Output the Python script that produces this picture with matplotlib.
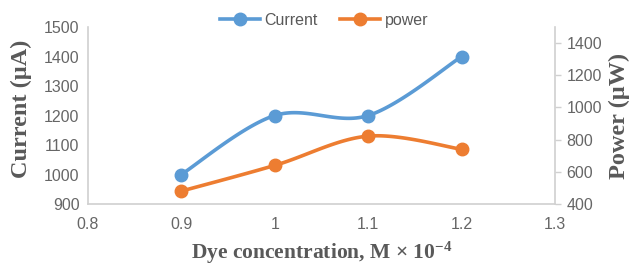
import numpy as np
import matplotlib
matplotlib.use("Agg")
import matplotlib.pyplot as plt
from matplotlib.lines import Line2D

x_vals = [0.9, 1.0, 1.1, 1.2]
current = [1000, 1200, 1200, 1400]
power = [480, 640, 822, 740]
x_ticks = [0.8, 0.9, 1.0, 1.1, 1.2, 1.3]
x_ticklabels = ["0.8", "0.9", "1", "1.1", "1.2", "1.3"]
left_ticks = [900, 1000, 1100, 1200, 1300, 1400, 1500]
right_ticks = [400, 600, 800, 1000, 1200, 1400]

BLUE = "#5B9BD5"
ORANGE = "#ED7D31"
GREY = "#595959"
TICKGREY = "#666666"
SPINE = "#D0D0D0"

plt.rcParams['mathtext.fontset'] = 'custom'
plt.rcParams['mathtext.rm'] = 'Liberation Serif:bold'
plt.rcParams['mathtext.bf'] = 'Liberation Serif:bold'
plt.rcParams['mathtext.it'] = 'Liberation Serif:bold'


def smooth(xs, ys, n=40):
    xs = np.asarray(xs, float); ys = np.asarray(ys, float)
    px = np.concatenate([[xs[0]], xs, [xs[-1]]])
    py = np.concatenate([[ys[0]], ys, [ys[-1]]])
    ox, oy = [], []
    t = np.linspace(0, 1, n)
    for i in range(1, len(px) - 2):
        p0x, p1x, p2x, p3x = px[i-1], px[i], px[i+1], px[i+2]
        p0y, p1y, p2y, p3y = py[i-1], py[i], py[i+1], py[i+2]
        c1x = p1x + (p2x - p0x) / 6; c1y = p1y + (p2y - p0y) / 6
        c2x = p2x - (p3x - p1x) / 6; c2y = p2y - (p3y - p1y) / 6
        bx = (1-t)**3*p1x + 3*(1-t)**2*t*c1x + 3*(1-t)*t**2*c2x + t**3*p2x
        by = (1-t)**3*p1y + 3*(1-t)**2*t*c1y + 3*(1-t)*t**2*c2y + t**3*p2y
        ox.extend(bx); oy.extend(by)
    return np.array(ox), np.array(oy)


fig = plt.figure(figsize=(6.36, 2.69), dpi=100)
ax = fig.add_axes([0.138, 0.2416, 0.735, 0.658])
ax2 = ax.twinx()

lw = 2.6
ms = 9
sx, sy = smooth(x_vals, current)
ax.plot(sx, sy, color=BLUE, lw=lw, solid_capstyle='round', zorder=3)
ax.plot(x_vals, current, 'o', color=BLUE, ms=ms, zorder=4)
sx2, sy2 = smooth(x_vals, power)
ax2.plot(sx2, sy2, color=ORANGE, lw=lw, solid_capstyle='round', zorder=3)
ax2.plot(x_vals, power, 'o', color=ORANGE, ms=ms, zorder=4)

ax.set_xlim(0.8, 1.3)
ax.set_ylim(900, 1500)
ax2.set_ylim(400, 1500)
ax.set_xticks(x_ticks)
ax.set_xticklabels(x_ticklabels)
ax.set_yticks(left_ticks)
ax2.set_yticks(right_ticks)

for a in (ax, ax2):
    a.spines['top'].set_visible(False)
    for s in a.spines.values():
        s.set_color(SPINE)
        s.set_linewidth(1.2)
    a.tick_params(length=0, colors=TICKGREY, labelsize=11.5, pad=6)
    for lab in a.get_xticklabels() + a.get_yticklabels():
        lab.set_fontfamily('Liberation Sans')
ax2.spines['left'].set_visible(False)
ax2.spines['bottom'].set_visible(False)
ax.spines['right'].set_visible(False)
ax.tick_params(axis='x', pad=9)
ax2.tick_params(axis='y', length=4, width=1.0, color=SPINE, direction='out', pad=4)

ax.set_ylabel("Current (µA)", fontfamily='Liberation Serif', fontweight='bold',
              fontsize=17.5, color=GREY)
ax.yaxis.set_label_coords(-0.12, 0.54)
ax2.set_ylabel("Power (µW)", fontfamily='Liberation Serif', fontweight='bold',
               fontsize=17.5, color=GREY, labelpad=5)
ax.set_xlabel("Dye concentration, M × 10$^{-4}$", fontfamily='Liberation Serif',
              fontweight='bold', fontsize=15.5, color=GREY, labelpad=6)

handles = [Line2D([], [], color=BLUE, lw=lw, marker='o', ms=ms),
           Line2D([], [], color=ORANGE, lw=lw, marker='o', ms=ms)]
leg = fig.legend(handles, ["Current", "power"], loc='center', ncol=2,
                 bbox_to_anchor=(0.51, 0.925), frameon=False,
                 prop={'family': 'Liberation Sans', 'size': 11.5},
                 handlelength=2.5, columnspacing=1.4, handletextpad=0.3)
for t in leg.get_texts():
    t.set_color(GREY)

fig.savefig("out.png", dpi=100)
